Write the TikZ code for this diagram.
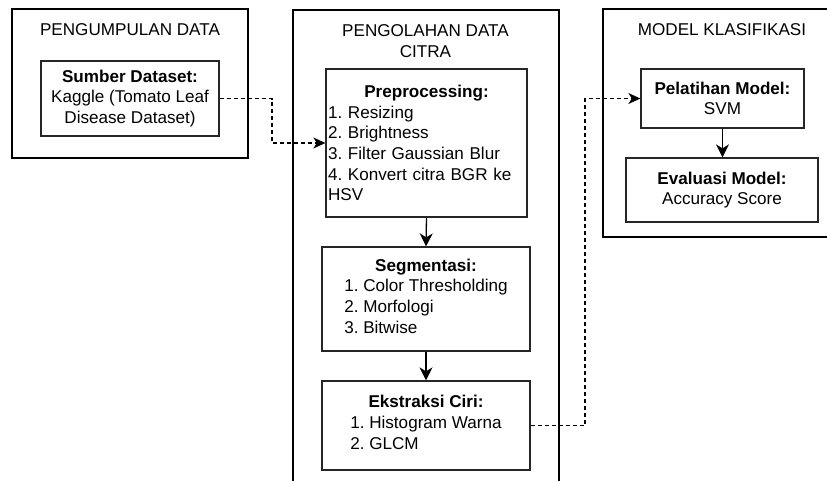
\documentclass[tikz,border=0pt]{standalone}
\usepackage{fontspec}
\setmainfont{Liberation Sans}
\usetikzlibrary{arrows.meta}
\newcommand\dfont{\fontsize{17.1}{20.7}\selectfont}
\frenchspacing
\begin{document}
\begin{tikzpicture}[x=1pt,y=-1pt,
  outerbox/.style={draw=black,line width=1.4pt},
  stepbox/.style={draw=black!85,line width=1.3pt,inner sep=0pt,font=\dfont},
  titletext/.style={font=\dfont,align=center,inner sep=0pt},
  flowarrow/.style={line width=1.3pt,-{Stealth[length=13pt,width=13pt,inset=4pt]}},
  dasharrow/.style={line width=1.3pt,dash pattern=on 4pt off 3pt,-{Stealth[length=12pt,width=11pt,inset=3.5pt]}}
]
\clip (0,0) rectangle (827,480);
\fill[white] (0,0) rectangle (827,480);
% containers
\draw[outerbox] (12,9) rectangle (248,158);
\draw[outerbox] (293,10) rectangle (559,520);
\draw[outerbox] (603,9) rectangle (860,237);
% titles
\node[titletext] (t1) at (130,30) {PENGUMPULAN DATA};
\node[titletext] (t2) at (425.5,41) {PENGOLAHAN DATA\\CITRA};
\node[titletext] (t3) at (722,30) {MODEL KLASIFIKASI};
% boxes
\node[stepbox,minimum width=178pt,minimum height=75pt,align=center] (sumber) at (130,98.5)
  {\textbf{Sumber Dataset:}\\Kaggle (Tomato Leaf\\Disease Dataset)};
\node[stepbox,minimum width=201pt,minimum height=148pt,text width=197pt,align=left] (pre) at (426.5,143)
  {{\centering\bfseries Preprocessing:\par}1. Resizing\\2. Brightness\\3. Filter Gaussian Blur\\4. Konvert citra BGR ke\\HSV};
\node[stepbox,minimum width=208pt,minimum height=104pt,align=center] (seg) at (426,299)
  {\textbf{Segmentasi:}\\\begin{tabular}[t]{@{}l@{}}1. Color Thresholding\\2. Morfologi\\3. Bitwise\end{tabular}};
\node[stepbox,minimum width=208pt,minimum height=89pt,align=center] (ekstr) at (426,425.5)
  {\textbf{Ekstraksi Ciri:}\\\begin{tabular}[t]{@{}l@{}}1. Histogram Warna\\2. GLCM\end{tabular}};
\node[stepbox,minimum width=163pt,minimum height=59pt,align=center] (pel) at (722.5,98.5)
  {\textbf{Pelatihan Model:}\\SVM};
\node[stepbox,minimum width=192pt,minimum height=64pt,align=center] (eval) at (722,190)
  {\textbf{Evaluasi Model:}\\Accuracy Score};
% bend points
\coordinate (k1) at (272,0);
\coordinate (k2) at (585,0);
% connectors
\draw[dasharrow] (sumber.east) -- (sumber.east -| k1) -- (k1 |- pre.west) -- (pre.west);
\draw[dasharrow] (ekstr.east) -- (ekstr.east -| k2) -- (k2 |- pel.west) -- (pel.west);
\draw[flowarrow] (pre.south) -- (seg.north);
\draw[flowarrow] (seg.south) -- (ekstr.north);
\draw[flowarrow] (pel.south) -- (pel.south |- eval.north);
\end{tikzpicture}
\end{document}
